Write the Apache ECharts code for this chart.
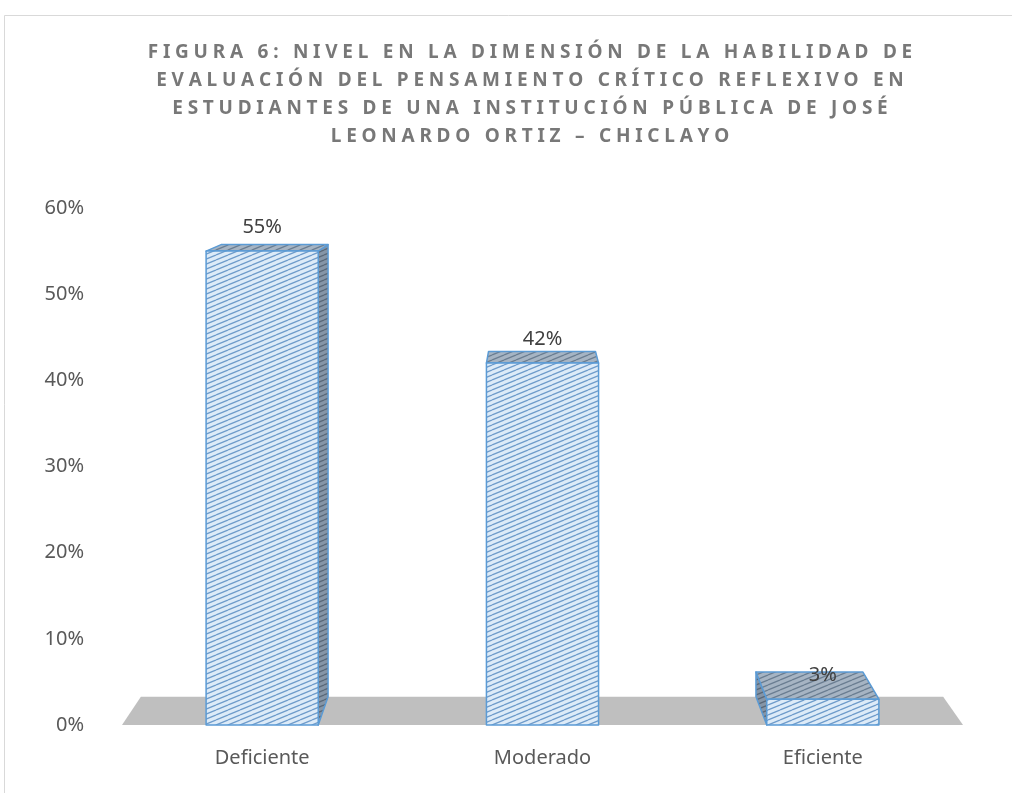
<!DOCTYPE html>
<html>
<head>
<meta charset="utf-8">
<script src="https://cdn.jsdelivr.net/npm/echarts@6/dist/echarts.min.js"></script>
<style>
html, body { margin: 0; padding: 0; background: #fff; }
#main { width: 1012px; height: 793px; }
</style>
</head>
<body>
<div id="main"></div>
<script>
var titleLines = [
  'FIGURA 6: NIVEL EN LA DIMENSIÓN DE LA HABILIDAD DE',
  'EVALUACIÓN DEL PENSAMIENTO CRÍTICO REFLEXIVO EN',
  'ESTUDIANTES DE UNA INSTITUCIÓN PÚBLICA DE JOSÉ',
  'LEONARDO ORTIZ – CHICLAYO'
];
var categories = ['Deficiente', 'Moderado', 'Eficiente'];
var values = [0.55, 0.42, 0.03];
var yMin = 0, yMax = 0.6, yStep = 0.1;

// fake 3d view: vanishing point and depth factor
var view = { vx: 532, vy: 110, k: 0.046 };

// wide letter spacing of the title
function spaced(s) {
  return s.split('').join('\u2005');
}

function pct(v) {
  return Math.round(v * 100) + '%';
}

function hatch(bg, fg) {
  var c = document.createElement('canvas');
  c.width = 12; c.height = 5;
  var ctx = c.getContext('2d');
  ctx.fillStyle = bg;
  ctx.fillRect(0, 0, 12, 5);
  ctx.strokeStyle = fg;
  ctx.lineWidth = 1.3;
  [-5, 0, 5].forEach(function (o) {
    ctx.beginPath();
    ctx.moveTo(0, 5 + o);
    ctx.lineTo(12, o);
    ctx.stroke();
  });
  return { image: c, repeat: 'repeat' };
}

var frontFill = hatch('#DDEBF8', '#6E9BCA');
var topFill = hatch('#A6B4C3', '#6A7D91');
var sideFill = hatch('#8595A7', '#596878');
var edge = '#5B9BD5';

function back(p) {
  return [p[0] + view.k * (view.vx - p[0]), p[1] + view.k * (view.vy - p[1])];
}

function renderFloor(params, api) {
  var cs = params.coordSys;
  var y0 = api.coord([0, api.value(0)])[1];
  var fl = [cs.x, y0], fr = [cs.x + cs.width, y0];
  return {
    type: 'polygon',
    shape: { points: [fl, fr, back(fr), back(fl)] },
    style: { fill: '#BFBFBF' }
  };
}

function renderBar(params, api) {
  var i = api.value(0);
  var top = api.coord([i, api.value(1)]);
  var bot = api.coord([i, 0]);
  var w = api.size([1, 0])[0] * 0.4;
  var x0 = top[0] - w / 2, x1 = top[0] + w / 2;
  var flt = [x0, top[1]], frt = [x1, top[1]];
  var flb = [x0, bot[1]], frb = [x1, bot[1]];
  var kids = [];
  var line = { stroke: edge, lineWidth: 1.5, lineJoin: 'round' };
  if (view.vx > x1) {
    kids.push({ type: 'polygon', shape: { points: [frt, back(frt), back(frb), frb] },
      style: Object.assign({ fill: sideFill }, line) });
  }
  if (view.vx < x0) {
    kids.push({ type: 'polygon', shape: { points: [flt, back(flt), back(flb), flb] },
      style: Object.assign({ fill: sideFill }, line) });
  }
  kids.push({ type: 'polygon', shape: { points: [flt, frt, back(frt), back(flt)] },
    style: Object.assign({ fill: topFill }, line) });
  kids.push({ type: 'polygon', shape: { points: [flt, frt, frb, flb] },
    style: Object.assign({ fill: frontFill }, line) });
  kids.push({ type: 'text', x: top[0], y: top[1] - 24,
    style: { text: pct(api.value(1)), fill: '#404040', font: '20px "Noto Sans"',
      align: 'center', verticalAlign: 'middle' } });
  return { type: 'group', children: kids };
}

var chart = echarts.init(document.getElementById('main'));

var option = {
  backgroundColor: '#fff',
  animation: false,
  title: {
    text: titleLines.map(spaced).join('\n'),
    left: 525,
    top: 34,
    textAlign: 'center',
    textStyle: {
      fontFamily: 'Noto Sans',
      fontSize: 19,
      fontWeight: 'bold',
      color: '#787878',
      lineHeight: 28
    }
  },
  graphic: [{
    type: 'rect',
    shape: { x: 4.5, y: 15.5, width: 1200, height: 900 },
    style: { fill: 'none', stroke: '#D9D9D9', lineWidth: 1 },
    silent: true
  }],
  grid: { left: 122, right: 49, top: 208, bottom: 68 },
  xAxis: {
    type: 'category',
    data: categories,
    axisLine: { show: false },
    axisTick: { show: false },
    axisLabel: { color: '#595959', fontFamily: 'Noto Sans', fontSize: 20, margin: 23 }
  },
  yAxis: {
    type: 'value',
    min: yMin,
    max: yMax,
    interval: yStep,
    splitLine: { show: false },
    axisLine: { show: false },
    axisTick: { show: false },
    axisLabel: {
      color: '#595959', fontFamily: 'Noto Sans', fontSize: 20, margin: 38,
      formatter: function (v) { return pct(v); }
    }
  },
  series: [
    {
      type: 'custom',
      name: 'piso',
      renderItem: renderFloor,
      data: [[yMin]],
      encode: { y: 0 },
      silent: true
    },
    {
      type: 'custom',
      name: 'Nivel',
      renderItem: renderBar,
      data: values.map(function (v, i) { return [i, v]; }),
      encode: { x: 0, y: 1 }
    }
  ]
};

chart.setOption(option);
</script>
</body>
</html>
